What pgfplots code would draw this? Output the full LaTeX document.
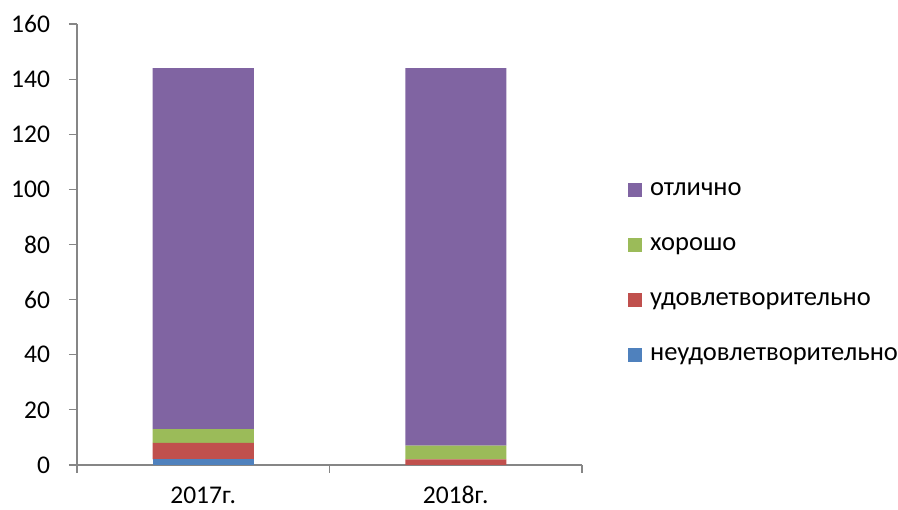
\documentclass[border=0pt]{standalone}
\usepackage{fontspec}
\setmainfont{Carlito}
\usepackage{pgfplots}
\pgfplotsset{compat=1.18}
\definecolor{cPurple}{HTML}{8064A2}
\definecolor{cGreen}{HTML}{9BBB59}
\definecolor{cRed}{HTML}{C0504D}
\definecolor{cBlue}{HTML}{4F81BD}
\definecolor{axgray}{HTML}{868686}
\newcommand{\tickfont}{\fontsize{25.5}{30}\selectfont}
\newcommand{\legfont}{\fontsize{26.5}{31}\selectfont}
\pgfplotsset{sq/.style={legend image code/.code={\fill[##1] (0pt,-7pt) rectangle (14pt,7pt);}}}
\begin{document}
\begin{tikzpicture}
\begin{axis}[
  at={(0,0)}, anchor=south west,
  scale only axis, width=505pt, height=441pt,
  ybar stacked, bar width=0.40,
  xmin=-0.5, xmax=1.5, ymin=0, ymax=160,
  ytick={0,20,...,160},
  xtick={-0.5,0.5,1.5}, xticklabels={},
  extra x ticks={0,1}, extra x tick labels={2017г.,2018г.},
  extra x tick style={major tick length=0pt, tick label style={yshift=-18pt}},
  yticklabel style={xshift=-15.5pt},
  axis x line*=bottom, axis y line*=left,
  axis line style={draw=axgray, line width=1.2pt},
  tick style={draw=axgray, line width=1.2pt},
  tick align=outside, major tick length=8pt,
  tick label style={font=\tickfont},
  /pgf/number format/assume math mode=true,
  legend style={at={(1.085,0.437)}, anchor=west, draw=none, fill=none,
    font=\legfont, row sep=29pt, column sep=8pt,
    nodes={inner sep=0pt, text height=19pt, text depth=7pt}},
  legend cell align=left, reverse legend,
]
\addplot[fill=cBlue, draw=none, sq] coordinates {(0,2) (1,0)};
\addlegendentry{неудовлетворительно}
\addplot[fill=cRed, draw=none, sq] coordinates {(0,6) (1,2)};
\addlegendentry{удовлетворительно}
\addplot[fill=cGreen, draw=none, sq] coordinates {(0,5) (1,5)};
\addlegendentry{хорошо}
\addplot[fill=cPurple, draw=none, sq] coordinates {(0,131) (1,137)};
\addlegendentry{отлично}
\end{axis}
\pgfresetboundingbox
\path (-77pt,-45pt) rectangle (821pt,465pt);
\end{tikzpicture}
\end{document}
